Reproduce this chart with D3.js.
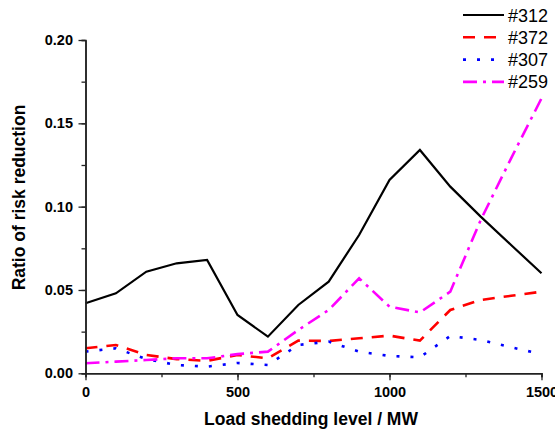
<!DOCTYPE html>
<html>
<head>
<meta charset="utf-8">
<script src="https://cdn.jsdelivr.net/npm/d3@7"></script>
<style>
  body { margin: 0; background: #fff; }
  svg { display: block; font-family: "Liberation Sans", Arial, sans-serif; }
</style>
</head>
<body>
<div id="main"></div>
<script>
// load shedding levels (MW)
const loadMW = [0, 100, 200, 300, 400, 500, 600, 700, 800, 900, 1000, 1100, 1200, 1300, 1400, 1500];

// ratio of risk reduction for each branch
const s312 = [0.042, 0.048, 0.061, 0.066, 0.068, 0.035, 0.022, 0.041, 0.055, 0.083, 0.116, 0.134, 0.112, 0.094, 0.077, 0.060];
const s372 = [0.015, 0.017, 0.011, 0.0085, 0.0075, 0.011, 0.009, 0.0196, 0.0194, 0.021, 0.0226, 0.0196, 0.038, 0.044, 0.0465, 0.049];
const s307 = [0.013, 0.015, 0.0085, 0.005, 0.004, 0.0062, 0.005, 0.017, 0.019, 0.013, 0.0104, 0.0096, 0.0224, 0.020, 0.0156, 0.0115];
const s259 = [0.006, 0.007, 0.008, 0.009, 0.009, 0.0115, 0.013, 0.026, 0.038, 0.057, 0.040, 0.0365, 0.049, 0.092, 0.129, 0.165];

const seriesNames = ["#312", "#372", "#307", "#259"];
const yTicks = [0, 0.05, 0.10, 0.15, 0.20];
const xTicks = [0, 500, 1000, 1500];

const width = 555;
const height = 431;
const margin = ({ top: 40, right: 13.5, bottom: 57.7, left: 85.5 });

const styles = [
    { color: "#000000", width: 2.2, dash: null },
    { color: "#ff0000", width: 2.6, dash: "12,9" },
    { color: "#0000ff", width: 2.6, dash: "3,11" },
    { color: "#ff00ff", width: 2.6, dash: "14,6,3,6" }
];

const data = [s312, s372, s307, s259].map((vals, i) => ({
    name: seriesNames[i],
    style: styles[i],
    points: loadMW.map((x, j) => [x, vals[j]])
}));

const x = d3.scaleLinear()
    .domain([0, 1500])
    .range([margin.left, width - margin.right]);

const y = d3.scaleLinear()
    .domain([0, 0.2])
    .range([height - margin.bottom, margin.top]);

const svg = d3.create("svg")
    .attr("width", width)
    .attr("height", height)
    .attr("viewBox", [0, 0, width, height]);

const line = d3.line()
    .x(d => x(d[0]))
    .y(d => y(d[1]));

// data lines
svg.append("g")
    .selectAll("path")
    .data(data)
    .join("path")
    .attr("fill", "none")
    .attr("stroke", d => d.style.color)
    .attr("stroke-width", d => d.style.width)
    .attr("stroke-dasharray", d => d.style.dash)
    .attr("stroke-linejoin", "miter")
    .attr("d", d => line(d.points));

const styleAxis = g => {
    g.select(".domain").attr("stroke", "#222").attr("stroke-width", 1.5);
    g.selectAll(".tick line").attr("stroke", "#222").attr("stroke-width", 1.3);
    g.selectAll(".tick text")
        .attr("fill", "#000")
        .attr("font-size", 14.5)
        .attr("font-weight", "bold")
        .attr("font-family", "'Liberation Sans', Arial, sans-serif");
};

// minor ticks
svg.append("g")
    .attr("transform", `translate(0,${height - margin.bottom})`)
    .call(d3.axisBottom(x).tickValues(d3.range(0, 1501, 250)).tickSize(4).tickFormat(""))
    .call(styleAxis);
svg.append("g")
    .attr("transform", `translate(${margin.left},0)`)
    .call(d3.axisLeft(y).tickValues(d3.range(0, 0.2001, 0.025)).tickSize(4).tickFormat(""))
    .call(styleAxis);

// major ticks
svg.append("g")
    .attr("transform", `translate(0,${height - margin.bottom})`)
    .call(d3.axisBottom(x).tickValues(xTicks).tickSize(7).tickPadding(6).tickFormat(d3.format("d")).tickSizeOuter(0))
    .call(styleAxis);
svg.append("g")
    .attr("transform", `translate(${margin.left},0)`)
    .call(d3.axisLeft(y).tickValues(yTicks).tickSize(7).tickPadding(5.5).tickFormat(d3.format(".2f")).tickSizeOuter(0))
    .call(styleAxis);

// axis titles
svg.append("text")
    .attr("x", 311)
    .attr("y", 425)
    .attr("text-anchor", "middle")
    .attr("font-size", 17.5)
    .attr("font-weight", "bold")
    .text("Load shedding level / MW");

svg.append("text")
    .attr("transform", `translate(25,${197.5}) rotate(-90)`)
    .attr("text-anchor", "middle")
    .attr("font-size", 17.5)
    .attr("font-weight", "bold")
    .text("Ratio of risk reduction");

// legend
const legend = svg.append("g")
    .selectAll("g")
    .data(data)
    .join("g")
    .attr("transform", (d, i) => `translate(463,${15 + i * 22.3})`);

legend.append("line")
    .attr("x1", 0)
    .attr("x2", 41)
    .attr("stroke", d => d.style.color)
    .attr("stroke-width", d => d.style.width)
    .attr("stroke-dasharray", d => d.style.dash);

legend.append("text")
    .attr("x", 45)
    .attr("y", 6.5)
    .attr("font-size", 18)
    .text(d => d.name);

d3.select("#main").append(() => svg.node());
</script>
</body>
</html>
